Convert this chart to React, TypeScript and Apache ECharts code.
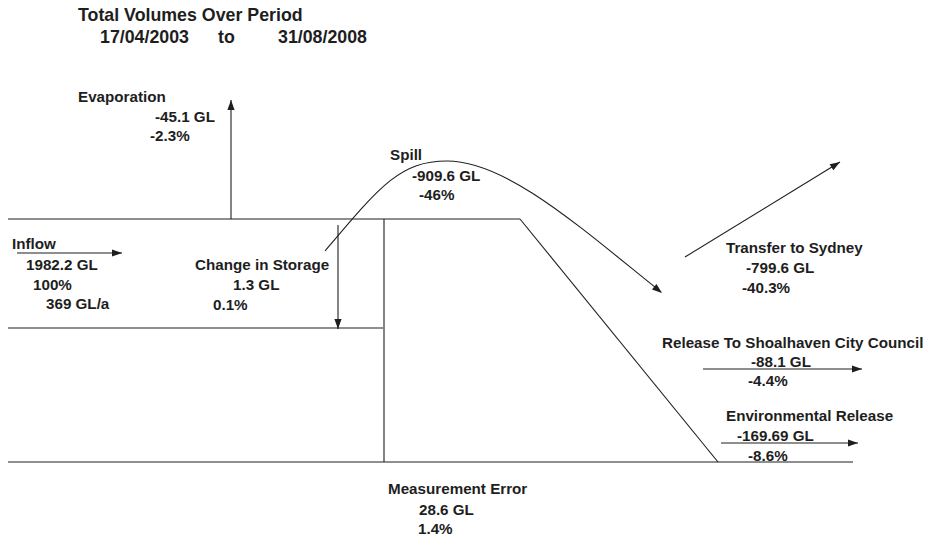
import React, { useEffect, useRef } from "react";
import * as echarts from "echarts";

// ---- Data ----
const titleText = "Total Volumes Over Period";
const periodStart = "17/04/2003";
const periodWord = "to";
const periodEnd = "31/08/2008";

const flowNames = [
  "Inflow",
  "Evaporation",
  "Change in Storage",
  "Spill",
  "Transfer to Sydney",
  "Release To Shoalhaven City Council",
  "Environmental Release",
  "Measurement Error",
];
const volumesGL = [1982.2, -45.1, 1.3, -909.6, -799.6, -88.1, -169.69, 28.6];
const percents = [100, -2.3, 0.1, -46, -40.3, -4.4, -8.6, 1.4];
const annualInflowGL = 369;

// ---- Layout (pixel positions of labels: [nameX, nameY, volX, volY, pctX, pctY]) ----
const labelPos: number[][] = [
  [12, 243, 26, 264, 33, 284],
  [78, 96, 155, 116, 150, 135],
  [195, 264, 233, 284, 213, 304],
  [390, 154, 412, 175, 419, 194],
  [726, 247, 746, 267, 742, 287],
  [662, 342, 751, 361, 748, 380],
  [726, 415, 737, 435, 748, 455],
  [388, 488, 419, 509, 418, 528],
];

const INK = "#1e1e1e";
const FONT = "Liberation Sans, Arial, sans-serif";

function txt(text: string, x: number, y: number, size = 15.2) {
  return {
    type: "text",
    x,
    y,
    style: {
      text,
      fill: INK,
      fontSize: size,
      fontWeight: "bold",
      fontFamily: FONT,
      verticalAlign: "middle",
      align: "left",
    },
  };
}

function seg(x1: number, y1: number, x2: number, y2: number) {
  return {
    type: "line",
    shape: { x1, y1, x2, y2 },
    style: { stroke: INK, lineWidth: 1.1 },
  };
}

function head(x1: number, y1: number, x2: number, y2: number, len = 10, half = 3.6) {
  const dx = x2 - x1;
  const dy = y2 - y1;
  const d = Math.sqrt(dx * dx + dy * dy);
  const ux = dx / d;
  const uy = dy / d;
  const bx = x2 - ux * len;
  const by = y2 - uy * len;
  return {
    type: "polygon",
    shape: {
      points: [
        [x2, y2],
        [bx - uy * half, by + ux * half],
        [bx + uy * half, by - ux * half],
      ],
    },
    style: { fill: INK },
  };
}

function arrow(x1: number, y1: number, x2: number, y2: number) {
  return [seg(x1, y1, x2, y2), head(x1, y1, x2, y2)];
}

function curve(s: number[]) {
  return {
    type: "bezierCurve",
    shape: {
      x1: s[0], y1: s[1], cpx1: s[2], cpy1: s[3],
      cpx2: s[4], cpy2: s[5], x2: s[6], y2: s[7],
    },
    style: { stroke: INK, lineWidth: 1.1, fill: "none" },
  };
}

export default function App() {
  const ref = useRef<HTMLDivElement>(null);

  useEffect(() => {
    document.body.style.margin = "0";
    if (!ref.current) return;
    const chart = echarts.init(ref.current, null, { renderer: "svg" });

    const elements: any[] = [];

    // Title
    elements.push(txt(titleText, 78, 15, 17.8));
    elements.push(txt(periodStart, 100, 37, 17.8));
    elements.push(txt(periodWord, 218, 37, 17.8));
    elements.push(txt(periodEnd, 278, 37, 17.8));

    // Structure lines
    elements.push(seg(8, 219, 520, 219));
    elements.push(seg(520, 219, 718, 462));
    elements.push(seg(8, 328, 383, 328));
    elements.push(seg(384, 219, 384, 462));
    elements.push(seg(8, 462, 853, 462));

    // Arrows
    elements.push(...arrow(17, 253, 122, 253)); // inflow
    elements.push(...arrow(231, 219, 231, 100)); // evaporation
    elements.push(...arrow(338, 225, 338, 329)); // change in storage
    elements.push(...arrow(685, 257, 840, 162)); // transfer to Sydney
    elements.push(...arrow(703, 369, 862, 369)); // Shoalhaven
    elements.push(...arrow(721, 443, 858, 443)); // environmental

    // Spill curve (two smooth cubic segments meeting at the crest)
    elements.push(curve([325, 251, 380, 186, 400, 161, 447, 161]));
    elements.push(curve([447, 161, 507, 161, 581, 228, 661, 292]));
    elements.push(head(581, 228, 662, 293));

    // Labels from data
    flowNames.forEach((name, i) => {
      const p = labelPos[i];
      elements.push(txt(name, p[0], p[1]));
      elements.push(txt(`${volumesGL[i]} GL`, p[2], p[3]));
      elements.push(txt(`${percents[i]}%`, p[4], p[5]));
    });
    elements.push(txt(`${annualInflowGL} GL/a`, 46, 303));

    chart.setOption({
      animation: false,
      backgroundColor: "#ffffff",
      graphic: { elements },
    });

    return () => chart.dispose();
  }, []);

  return <div ref={ref} style={{ width: 927, height: 535 }} />;
}
